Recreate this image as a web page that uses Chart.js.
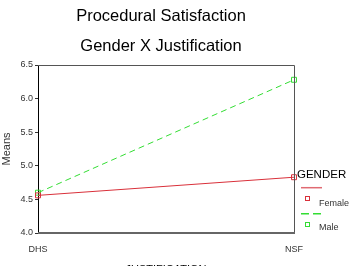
<!DOCTYPE html>
<html><head><meta charset="utf-8">
<script src="https://cdn.jsdelivr.net/npm/chart.js@4"></script>
<style>html,body{margin:0;padding:0;background:#fff;}canvas{display:block;}</style>
</head><body>
<canvas id="c" width="349" height="266"></canvas>
<script>
const categories = ['DHS', 'NSF'];
const female = [4.56, 4.83];
const male = [4.60, 6.28];
const seriesNames = ['Female', 'Male'];
const yTicks = [4.0, 4.5, 5.0, 5.5, 6.0, 6.5];
const titleLines = ['Procedural Satisfaction', 'Gender X Justification'];
const xTitle = 'JUSTIFICATION';
const yTitle = 'Means';
const legendTitle = 'GENDER';

const RED = '#d9303a', GREEN = '#33dd33';
const FONT = '"Liberation Sans", Arial, sans-serif';

const decor = {
  id: 'decor',
  afterDraw(chart) {
    const ctx = chart.ctx, a = chart.chartArea;
    ctx.save();
    // frame
    ctx.strokeStyle = '#555'; ctx.lineWidth = 1;
    ctx.beginPath();
    ctx.moveTo(a.left, a.top + 0.5); ctx.lineTo(a.right + 0.5, a.top + 0.5);
    ctx.lineTo(a.right + 0.5, a.bottom);
    ctx.stroke();
    ctx.strokeStyle = '#666'; ctx.lineWidth = 2;
    ctx.beginPath(); ctx.moveTo(a.left, a.bottom); ctx.lineTo(a.right + 1, a.bottom); ctx.stroke();
    // titles
    ctx.fillStyle = '#000'; ctx.textAlign = 'center'; ctx.textBaseline = 'middle';
    ctx.font = '16.5px ' + FONT;
    ctx.fillText(titleLines[0], 161, 16);
    ctx.fillText(titleLines[1], 161, 46);
    // x title (cut at bottom)
    ctx.font = '11px ' + FONT;
    ctx.fillText(xTitle, 166, 270);
    // legend
    ctx.textAlign = 'left';
    ctx.font = '11.5px ' + FONT;
    ctx.fillText(legendTitle, 297, 175);
    ctx.lineWidth = 1.5;
    ctx.strokeStyle = '#e06a72';
    ctx.beginPath(); ctx.moveTo(301, 187.7); ctx.lineTo(322, 187.7); ctx.stroke();
    ctx.lineWidth = 1;
    ctx.strokeStyle = RED;
    ctx.strokeRect(305.5, 196.5, 4, 4);
    ctx.strokeStyle = GREEN;
    ctx.lineWidth = 1.5;
    ctx.setLineDash([8, 4]);
    ctx.beginPath(); ctx.moveTo(301, 213.7); ctx.lineTo(322, 213.7); ctx.stroke();
    ctx.setLineDash([]);
    ctx.lineWidth = 1;
    ctx.strokeRect(305.5, 222.5, 4, 4);
    ctx.fillStyle = '#333';
    ctx.font = '9px ' + FONT;
    ctx.fillText(seriesNames[0], 319, 203.5);
    ctx.fillText(seriesNames[1], 319, 228);
    ctx.restore();
  }
};

new Chart(document.getElementById('c'), {
  type: 'line',
  data: {
    labels: categories,
    datasets: [
      { label: seriesNames[0], data: female, borderColor: RED, borderWidth: 1,
        pointStyle: 'rect', pointRadius: 3.5, pointBorderColor: RED, pointBackgroundColor: 'rgba(0,0,0,0)', pointBorderWidth: 1, tension: 0 },
      { label: seriesNames[1], data: male, borderColor: GREEN, borderWidth: 1, borderDash: [6, 4],
        pointStyle: 'rect', pointRadius: 3.5, pointBorderColor: GREEN, pointBackgroundColor: 'rgba(0,0,0,0)', pointBorderWidth: 1, tension: 0 }
    ]
  },
  options: {
    responsive: false, animation: false,
    layout: { padding: { top: 65, right: 55, left: 0, bottom: 0 } },
    plugins: { legend: { display: false }, title: { display: false }, tooltip: { enabled: false } },
    scales: {
      x: {
        type: 'category', offset: false,
        grid: { display: false },
        border: { display: false },
        ticks: { color: '#333', font: { size: 9, family: FONT }, padding: 3, maxRotation: 0, autoSkip: false },
        afterFit(s) { s.height = 33; }
      },
      y: {
        min: 4.0, max: 6.5,
        afterBuildTicks(s) { s.ticks = yTicks.map(v => ({ value: v })); },
        grid: { display: true, drawOnChartArea: false, tickLength: 3, color: '#333' },
        border: { display: true, color: '#000', width: 1 },
        ticks: { color: '#333', font: { size: 9, family: FONT }, padding: 2, callback: v => v.toFixed(1) },
        title: { display: true, text: yTitle, color: '#333', font: { size: 11, family: FONT }, padding: { top: 0, bottom: 2 } },
        afterFit(s) { s.width = 38; }
      }
    }
  },
  plugins: [decor]
});
</script>
</body></html>
